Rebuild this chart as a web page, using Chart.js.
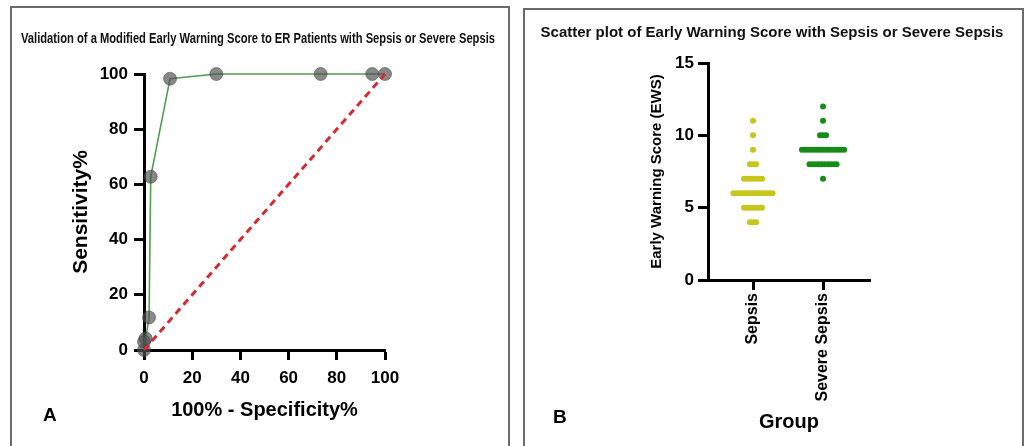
<!DOCTYPE html>
<html>
<head>
<meta charset="utf-8">
<script src="https://cdn.jsdelivr.net/npm/chart.js@4.4.1/dist/chart.umd.min.js"></script>
<style>
  html, body { margin: 0; padding: 0; background: #fff; }
  body { width: 1028px; height: 446px; position: relative; overflow: hidden; font-family: "Liberation Sans", Arial, sans-serif; }
  .box { position: absolute; border: 2px solid #6b6b6b; border-bottom: none; box-sizing: border-box; }
  .cv { position: absolute; top: 0; }
  .letter { position: absolute; font: bold 19px "Liberation Sans", Arial, sans-serif; color: #000; }
</style>
</head>
<body>
<div class="box" style="left:10px; top:6px; width:500px; height:460px;"></div>
<div class="box" style="left:523px; top:8px; width:501px; height:460px;"></div>
<div class="cv" style="left:0; width:516px; height:446px;"><canvas id="rocChart" width="516" height="446"></canvas></div>
<div class="cv" style="left:516px; width:512px; height:446px;"><canvas id="ewsChart" width="512" height="446"></canvas></div>
<div class="letter" style="left:43px; top:404px;">A</div>
<div class="letter" style="left:553px; top:406px;">B</div>
<script>
// ---------- Panel A: ROC curve data ----------
const rocFpr = [0, 0, 0.7, 2.1, 2.8, 10.8, 30, 73.3, 94.7, 100];      // 100% - Specificity%
const rocTpr = [0, 3, 4.2, 11.8, 62.8, 98.3, 100, 100, 100, 100];     // Sensitivity%
const refLineX = [0, 100];
const refLineY = [0, 100];
const rocTicks = [0, 20, 40, 60, 80, 100];

// ---------- Panel B: EWS dot plot data ----------
const groups = ["Sepsis", "Severe Sepsis"];
const ewsScores = [4, 5, 6, 7, 8, 9, 10, 11, 12];
const sepsisCounts = [3, 7, 14, 7, 3, 1, 1, 1, 0];
const severeCounts = [0, 0, 0, 1, 10, 15, 3, 1, 1];
const ewsTicks = [0, 5, 10, 15];

Chart.defaults.font.family = '"Liberation Sans", Arial, sans-serif';
Chart.defaults.color = '#000';

function dotRow(groupIndex, counts) {
  // spread identical values side by side around the group position
  const step = 0.043;
  const pts = [];
  ewsScores.forEach((s, k) => {
    const n = counts[k];
    for (let i = 0; i < n; i++) {
      pts.push({ x: groupIndex + (i - (n - 1) / 2) * step, y: s });
    }
  });
  return pts;
}

const axisCommon = {
  border: { display: true, color: '#000', width: 3 },
  grid: { display: true, drawOnChartArea: false, drawTicks: true, tickLength: 10, tickWidth: 3, tickColor: '#000' }
};

// ---------- Chart A ----------
new Chart(document.getElementById('rocChart'), {
  type: 'scatter',
  data: {
    datasets: [
      {
        label: 'ROC',
        data: rocFpr.map((x, i) => ({ x: x, y: rocTpr[i] })),
        showLine: true,
        borderColor: '#4f9f4f',
        borderWidth: 1.6,
        pointRadius: 6.5,
        pointBackgroundColor: 'rgba(80,80,80,0.68)',
        pointBorderColor: 'rgba(70,70,70,0.55)',
        pointBorderWidth: 1,
        clip: false,
        order: 2
      },
      {
        label: 'Reference',
        data: refLineX.map((x, i) => ({ x: x, y: refLineY[i] })),
        showLine: true,
        borderColor: '#d42b33',
        borderWidth: 3,
        borderDash: [7, 5],
        pointRadius: 0,
        clip: false,
        order: 1
      }
    ]
  },
  options: {
    responsive: false,
    animation: false,
    layout: { padding: { top: 30, bottom: 10, left: 21, right: 21 } },
    plugins: {
      legend: { display: false },
      tooltip: { enabled: false },
      title: {
        display: true,
        text: 'Validation of a Modified Early Warning Score to ER Patients with Sepsis or Severe Sepsis',
        font: { size: 15, weight: 'bold' },
        color: '#111',
        padding: { top: 0, bottom: 26 }
      }
    },
    scales: {
      x: Object.assign({}, axisCommon, {
        type: 'linear', position: 'bottom', min: 0, max: 100,
        afterBuildTicks: s => { s.ticks = rocTicks.map(v => ({ value: v })); },
        afterFit: s => { s.height = 86; },
        ticks: { font: { size: 17, weight: 'bold' }, padding: 8, maxRotation: 0 },
        title: { display: true, text: '100% - Specificity%', font: { size: 20, weight: 'bold' }, padding: { top: 0, bottom: 14 } }
      }),
      y: Object.assign({}, axisCommon, {
        type: 'linear', position: 'left', min: 0, max: 100,
        afterBuildTicks: s => { s.ticks = rocTicks.map(v => ({ value: v })); },
        afterFit: s => { s.width = 123; },
        ticks: { font: { size: 17, weight: 'bold' }, padding: 6 },
        title: { display: true, text: 'Sensitivity%', font: { size: 21, weight: 'bold' }, padding: { top: 48, bottom: 0 } }
      }),
      yR: {
        type: 'linear', position: 'right', display: true,
        ticks: { display: false }, grid: { display: false }, border: { display: false },
        afterFit: s => { s.width = 110; }
      }
    }
  }
});

// ---------- Chart B ----------
new Chart(document.getElementById('ewsChart'), {
  type: 'scatter',
  data: {
    datasets: [
      {
        label: groups[0],
        data: dotRow(0, sepsisCounts),
        pointRadius: 3,
        pointBackgroundColor: '#c6c61c',
        pointBorderWidth: 0,
        clip: false
      },
      {
        label: groups[1],
        data: dotRow(1, severeCounts),
        pointRadius: 3,
        pointBackgroundColor: '#168c16',
        pointBorderWidth: 0,
        clip: false
      }
    ]
  },
  options: {
    responsive: false,
    animation: false,
    layout: { padding: { top: 24, bottom: 10, left: 0, right: 0 } },
    plugins: {
      legend: { display: false },
      tooltip: { enabled: false },
      title: {
        display: true,
        text: 'Scatter plot of Early Warning Score with Sepsis or Severe Sepsis',
        font: { size: 15, weight: 'bold' },
        color: '#111',
        padding: { top: 0, bottom: 21 }
      }
    },
    scales: {
      x: Object.assign({}, axisCommon, {
        type: 'linear', position: 'bottom', min: -0.643, max: 1.671,
        afterBuildTicks: s => { s.ticks = groups.map((g, i) => ({ value: i })); },
        afterFit: s => { s.height = 156; },
        ticks: { font: { size: 16, weight: 'bold' }, padding: 3, minRotation: 90, maxRotation: 90,
                 callback: v => groups[v] },
        title: { display: true, text: 'Group', font: { size: 20, weight: 'bold' }, padding: { top: 0, bottom: 2 } }
      }),
      y: Object.assign({}, axisCommon, {
        type: 'linear', position: 'left', min: 0, max: 15,
        afterBuildTicks: s => { s.ticks = ewsTicks.map(v => ({ value: v })); },
        afterFit: s => { s.width = 192; },
        ticks: { font: { size: 17, weight: 'bold' }, padding: 4 },
        title: { display: true, text: 'Early Warning Score (EWS)', font: { size: 15, weight: 'bold' }, padding: { top: 132, bottom: 0 } }
      }),
      yR: {
        type: 'linear', position: 'right', display: true,
        ticks: { display: false }, grid: { display: false }, border: { display: false },
        afterFit: s => { s.width = 158; }
      }
    }
  }
});
</script>
</body>
</html>
